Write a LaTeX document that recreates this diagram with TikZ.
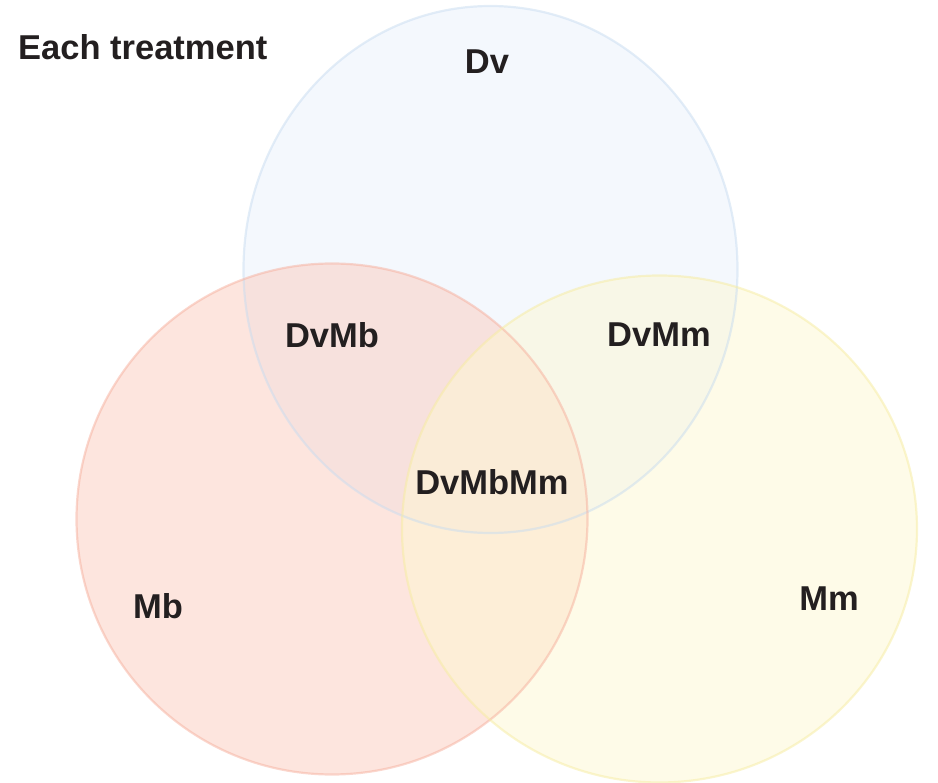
\documentclass[tikz,border=0pt]{standalone}
\usepackage{fontspec}
\setmainfont{Liberation Sans}
\usepackage{xcolor}
\usepackage{tikz}

\definecolor{dvfill}{RGB}{233,241,252}
\definecolor{dvline}{RGB}{200,220,240}
\definecolor{mbfill}{RGB}{251,203,189}
\definecolor{mbline}{RGB}{246,176,158}
\definecolor{mmfill}{RGB}{253,247,209}
\definecolor{mmline}{RGB}{246,236,160}
\definecolor{labtext}{RGB}{35,31,32}

\tikzset{
  setfill/.style={fill=#1,fill opacity=0.5},
  setline/.style={draw=#1,draw opacity=0.5,line width=2.2pt},
  setlab/.style={font=\fontsize{34.5}{40}\selectfont\bfseries,text=labtext,inner sep=0pt}
}

\begin{document}
\begin{tikzpicture}[x=1pt,y=-1pt]
        \useasboundingbox (0,0) rectangle (938,783);
        % fills (pixel coordinates, y downwards)
        \fill[setfill=dvfill] (490.5,269.5) ellipse [x radius=247,y radius=263.5];
        \fill[setfill=mbfill] (332,519) circle [radius=255.5];
        \fill[setfill=mmfill] (659.5,529) ellipse [x radius=257.5,y radius=253.5];
        % outlines
        \draw[setline=dvline] (490.5,269.5) ellipse [x radius=247,y radius=263.5];
        \draw[setline=mbline] (332,519) circle [radius=255.5];
        \draw[setline=mmline] (659.5,529) ellipse [x radius=257.5,y radius=253.5];
        % labels
        \node[setlab,anchor=west] (title) at (18,47) {Each treatment};
        \node[setlab] (dv)     at (487,62)  {Dv};
        \node[setlab] (dvmb)   at (332,335) {DvMb};
        \node[setlab] (dvmm)   at (659,335) {DvMm};
        \node[setlab] (dvmbmm) at (492,482) {DvMbMm};
        \node[setlab] (mb)     at (158,606) {Mb};
        \node[setlab] (mm)     at (829,599) {Mm};
      \end{tikzpicture}
\end{document}
